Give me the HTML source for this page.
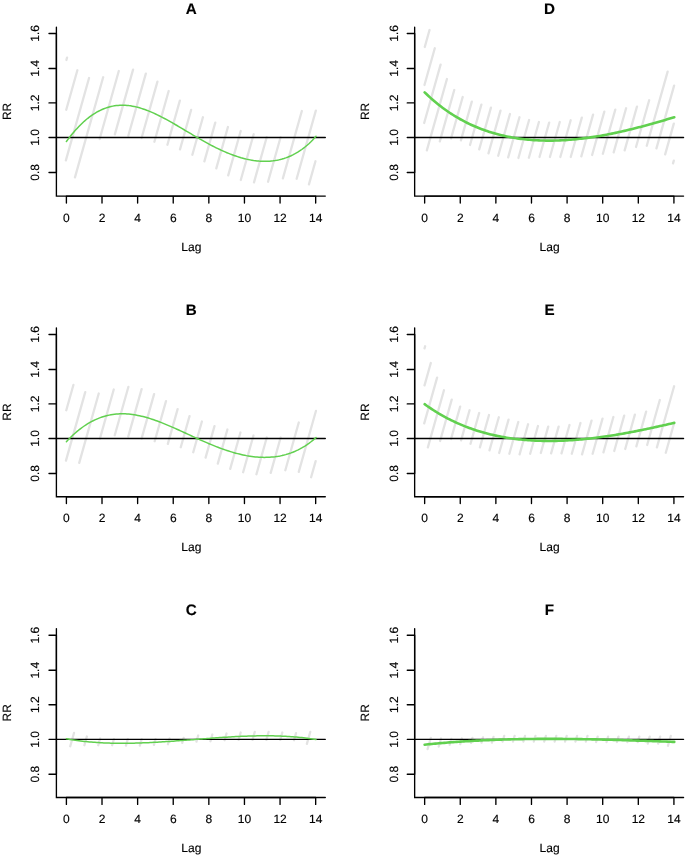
<!DOCTYPE html>
<html><head><meta charset="utf-8"><title>Lag-response curves</title>
<style>
html,body{margin:0;padding:0;background:#fff;}
body{width:685px;height:856px;overflow:hidden;}
svg{display:block;will-change:transform;font-family:"Liberation Sans",sans-serif;}
.ax{stroke:#000;stroke-width:1.35;fill:none;stroke-linecap:round;}
.h{stroke:#E3E3E3;stroke-width:2.3;stroke-linecap:round;fill:none;}
.cv{stroke:#61D04F;fill:none;stroke-linecap:round;stroke-linejoin:round;}
text{fill:#000;font-size:12.0px;stroke:#000;stroke-width:0.15px;text-rendering:geometricPrecision;}
.ti{font-size:15.2px;font-weight:bold;}
</style></head><body>
<svg width="685" height="856" viewBox="0 0 685 856">
<rect x="0" y="0" width="685" height="856" fill="#fff"/>
<g transform="translate(0,0)">
<path class="h" d="M67.04,57.65L66.40,59.95 M77.37,70.25L66.25,109.75 M89.06,78.05L65.87,160.35 M103.16,77.25L74.96,177.35 M118.79,71.05L99.66,138.95 M133.06,69.65L114.84,134.35 M145.82,73.65L128.32,135.75 M157.44,81.65L141.58,137.95 M168.67,91.05L154.39,141.75 M179.85,100.65L167.43,144.75 M191.11,109.95L180.01,149.35 M202.93,117.25L192.37,154.75 M215.29,122.65L204.39,161.35 M227.93,127.05L216.30,168.35 M240.69,131.05L228.21,175.35 M253.67,134.25L240.79,179.95 M266.70,137.25L254.00,182.35 M280.58,137.25L268.05,181.75 M301.84,111.05L282.88,178.35 M315.83,110.65L296.65,178.75 M315.46,161.25L308.95,184.35"/>
<g transform="translate(0,0.0)">
<path class="ax" d="M56.4,137.5H325.3"/>
<path class="cv" stroke-width="1.5" d="M66.40,141.54 L68.18,139.14 L69.97,136.82 L71.75,134.58 L73.53,132.43 L75.31,130.36 L77.10,128.38 L78.88,126.48 L80.66,124.67 L82.45,122.95 L84.23,121.31 L86.01,119.76 L87.80,118.29 L89.58,116.91 L91.36,115.61 L93.15,114.40 L94.93,113.27 L96.71,112.21 L98.49,111.24 L100.28,110.34 L102.06,109.52 L103.84,108.77 L105.63,108.09 L107.41,107.50 L109.19,106.97 L110.97,106.51 L112.76,106.13 L114.54,105.82 L116.32,105.57 L118.11,105.39 L119.89,105.27 L121.67,105.22 L123.46,105.23 L125.24,105.30 L127.02,105.43 L128.81,105.62 L130.59,105.86 L132.37,106.15 L134.15,106.50 L135.94,106.89 L137.72,107.33 L139.50,107.82 L141.29,108.36 L143.07,108.93 L144.85,109.55 L146.63,110.20 L148.42,110.90 L150.20,111.62 L151.98,112.38 L153.77,113.18 L155.55,114.00 L157.33,114.85 L159.12,115.72 L160.90,116.62 L162.68,117.55 L164.47,118.49 L166.25,119.45 L168.03,120.43 L169.81,121.42 L171.60,122.43 L173.38,123.45 L175.16,124.48 L176.95,125.52 L178.73,126.57 L180.51,127.62 L182.29,128.68 L184.08,129.74 L185.86,130.80 L187.64,131.86 L189.43,132.92 L191.21,133.98 L192.99,135.03 L194.78,136.08 L196.56,137.12 L198.34,138.16 L200.12,139.18 L201.91,140.20 L203.69,141.20 L205.47,142.19 L207.26,143.17 L209.04,144.13 L210.82,145.07 L212.61,146.00 L214.39,146.91 L216.17,147.80 L217.95,148.67 L219.74,149.52 L221.52,150.35 L223.30,151.15 L225.09,151.93 L226.87,152.69 L228.65,153.42 L230.44,154.13 L232.22,154.80 L234.00,155.45 L235.78,156.07 L237.57,156.66 L239.35,157.22 L241.13,157.75 L242.92,158.24 L244.70,158.70 L246.48,159.13 L248.27,159.52 L250.05,159.88 L251.83,160.20 L253.61,160.48 L255.40,160.72 L257.18,160.93 L258.96,161.09 L260.75,161.21 L262.53,161.29 L264.31,161.33 L266.10,161.32 L267.88,161.26 L269.66,161.16 L271.44,161.00 L273.23,160.80 L275.01,160.55 L276.79,160.25 L278.58,159.89 L280.36,159.47 L282.14,159.00 L283.93,158.47 L285.71,157.88 L287.49,157.23 L289.27,156.51 L291.06,155.72 L292.84,154.87 L294.62,153.95 L296.41,152.95 L298.19,151.88 L299.97,150.73 L301.76,149.50 L303.54,148.18 L305.32,146.78 L307.11,145.28 L308.89,143.69 L310.67,142.00 L312.45,140.22 L314.24,138.32 L316.02,136.32"/>
</g>
<path class="ax" d="M56.4,27.2V196.1H325.3"/>
<path class="ax" d="M56.4,172.45h-7.4 M56.4,137.50h-7.4 M56.4,102.90h-7.4 M56.4,68.45h-7.4 M56.4,33.45h-7.4 M66.40,196.1v6.9 M102.01,196.1v6.9 M137.62,196.1v6.9 M173.23,196.1v6.9 M208.84,196.1v6.9 M244.45,196.1v6.9 M280.06,196.1v6.9 M315.67,196.1v6.9 M66.40,196.1H315.67 M56.4,172.45V33.45"/>
<text transform="translate(39.3,172.45) rotate(-90)" text-anchor="middle">0.8</text>
<text transform="translate(39.3,137.50) rotate(-90)" text-anchor="middle">1.0</text>
<text transform="translate(39.3,102.90) rotate(-90)" text-anchor="middle">1.2</text>
<text transform="translate(39.3,68.45) rotate(-90)" text-anchor="middle">1.4</text>
<text transform="translate(39.3,33.45) rotate(-90)" text-anchor="middle">1.6</text>
<text x="66.40" y="221.6" text-anchor="middle">0</text>
<text x="102.01" y="221.6" text-anchor="middle">2</text>
<text x="137.62" y="221.6" text-anchor="middle">4</text>
<text x="173.23" y="221.6" text-anchor="middle">6</text>
<text x="208.84" y="221.6" text-anchor="middle">8</text>
<text x="244.45" y="221.6" text-anchor="middle">10</text>
<text x="280.06" y="221.6" text-anchor="middle">12</text>
<text x="315.67" y="221.6" text-anchor="middle">14</text>
<text x="191.3" y="250.6" text-anchor="middle">Lag</text>
<text transform="translate(10.8,111.4) rotate(-90)" text-anchor="middle">RR</text>
<text class="ti" x="191.2" y="14" text-anchor="middle">A</text>
</g>
<g transform="translate(0,300.6)">
<path class="h" d="M73.40,84.35L66.28,109.65 M85.25,91.55L65.96,160.05 M98.74,92.95L79.22,162.25 M113.75,88.95L99.92,138.05 M128.36,86.35L114.75,134.65 M141.62,88.55L128.24,136.05 M154.09,93.55L141.56,138.05 M166.00,100.55L154.70,140.65 M177.62,108.55L167.85,143.25 M189.53,115.55L180.77,146.65 M201.89,120.95L193.24,151.65 M214.48,125.55L205.60,157.05 M227.40,128.95L217.79,163.05 M240.43,131.95L230.21,168.25 M253.47,134.95L243.13,171.65 M266.78,136.95L256.45,173.65 M280.66,136.95L270.72,172.25 M298.77,121.95L285.33,169.65 M315.92,110.35L298.76,171.25 M315.66,160.55L311.12,176.65"/>
<g transform="translate(0,0.4)">
<path class="ax" d="M56.4,137.5H325.3"/>
<path class="cv" stroke-width="1.5" d="M66.40,140.66 L68.18,138.78 L69.97,136.97 L71.75,135.23 L73.53,133.56 L75.31,131.96 L77.10,130.42 L78.88,128.96 L80.66,127.57 L82.45,126.25 L84.23,125.00 L86.01,123.81 L87.80,122.69 L89.58,121.64 L91.36,120.65 L93.15,119.73 L94.93,118.87 L96.71,118.07 L98.49,117.34 L100.28,116.66 L102.06,116.03 L103.84,115.47 L105.63,114.96 L107.41,114.51 L109.19,114.12 L110.97,113.77 L112.76,113.48 L114.54,113.25 L116.32,113.06 L118.11,112.93 L119.89,112.84 L121.67,112.80 L123.46,112.81 L125.24,112.86 L127.02,112.96 L128.81,113.10 L130.59,113.28 L132.37,113.50 L134.15,113.76 L135.94,114.06 L137.72,114.39 L139.50,114.76 L141.29,115.16 L143.07,115.59 L144.85,116.06 L146.63,116.55 L148.42,117.08 L150.20,117.63 L151.98,118.20 L153.77,118.80 L155.55,119.43 L157.33,120.07 L159.12,120.74 L160.90,121.42 L162.68,122.12 L164.47,122.84 L166.25,123.57 L168.03,124.32 L169.81,125.08 L171.60,125.85 L173.38,126.64 L175.16,127.43 L176.95,128.22 L178.73,129.03 L180.51,129.84 L182.29,130.66 L184.08,131.48 L185.86,132.30 L187.64,133.12 L189.43,133.94 L191.21,134.76 L192.99,135.58 L194.78,136.40 L196.56,137.21 L198.34,138.01 L200.12,138.81 L201.91,139.61 L203.69,140.39 L205.47,141.17 L207.26,141.93 L209.04,142.69 L210.82,143.43 L212.61,144.17 L214.39,144.88 L216.17,145.59 L217.95,146.28 L219.74,146.95 L221.52,147.61 L223.30,148.24 L225.09,148.86 L226.87,149.47 L228.65,150.05 L230.44,150.61 L232.22,151.15 L234.00,151.67 L235.78,152.16 L237.57,152.63 L239.35,153.08 L241.13,153.50 L242.92,153.90 L244.70,154.27 L246.48,154.62 L248.27,154.93 L250.05,155.22 L251.83,155.47 L253.61,155.70 L255.40,155.90 L257.18,156.06 L258.96,156.19 L260.75,156.29 L262.53,156.35 L264.31,156.38 L266.10,156.37 L267.88,156.33 L269.66,156.24 L271.44,156.12 L273.23,155.96 L275.01,155.76 L276.79,155.51 L278.58,155.22 L280.36,154.89 L282.14,154.51 L283.93,154.08 L285.71,153.61 L287.49,153.09 L289.27,152.51 L291.06,151.89 L292.84,151.20 L294.62,150.47 L296.41,149.67 L298.19,148.82 L299.97,147.91 L301.76,146.93 L303.54,145.89 L305.32,144.78 L307.11,143.60 L308.89,142.35 L310.67,141.02 L312.45,139.62 L314.24,138.14 L316.02,136.58"/>
</g>
<path class="ax" d="M56.4,27.2V196.1H325.3"/>
<path class="ax" d="M56.4,172.85h-7.4 M56.4,137.90h-7.4 M56.4,103.30h-7.4 M56.4,68.85h-7.4 M56.4,33.85h-7.4 M66.40,196.1v6.9 M102.01,196.1v6.9 M137.62,196.1v6.9 M173.23,196.1v6.9 M208.84,196.1v6.9 M244.45,196.1v6.9 M280.06,196.1v6.9 M315.67,196.1v6.9 M66.40,196.1H315.67 M56.4,172.85V33.85"/>
<text transform="translate(39.3,172.85) rotate(-90)" text-anchor="middle">0.8</text>
<text transform="translate(39.3,137.90) rotate(-90)" text-anchor="middle">1.0</text>
<text transform="translate(39.3,103.30) rotate(-90)" text-anchor="middle">1.2</text>
<text transform="translate(39.3,68.85) rotate(-90)" text-anchor="middle">1.4</text>
<text transform="translate(39.3,33.85) rotate(-90)" text-anchor="middle">1.6</text>
<text x="66.40" y="221.6" text-anchor="middle">0</text>
<text x="102.01" y="221.6" text-anchor="middle">2</text>
<text x="137.62" y="221.6" text-anchor="middle">4</text>
<text x="173.23" y="221.6" text-anchor="middle">6</text>
<text x="208.84" y="221.6" text-anchor="middle">8</text>
<text x="244.45" y="221.6" text-anchor="middle">10</text>
<text x="280.06" y="221.6" text-anchor="middle">12</text>
<text x="315.67" y="221.6" text-anchor="middle">14</text>
<text x="191.3" y="250.6" text-anchor="middle">Lag</text>
<text transform="translate(10.8,111.4) rotate(-90)" text-anchor="middle">RR</text>
<text class="ti" x="191.2" y="14" text-anchor="middle">B</text>
</g>
<g transform="translate(0,601.4)">
<path class="h" d="M73.99,131.55L70.24,144.85 M86.85,135.15L84.40,143.85 M100.17,137.15L98.28,143.85 M113.88,137.75L112.16,143.85 M127.76,137.75L125.93,144.25 M141.64,137.75L139.81,144.25 M155.52,137.75L153.91,143.45 M169.57,137.15L167.96,142.85 M183.62,136.55L182.24,141.45 M198.17,134.15L196.46,140.25 M212.34,133.15L210.45,139.85 M226.50,132.15L224.61,138.85 M240.66,131.15L238.60,138.45 M254.71,130.55L252.48,138.45 M268.59,130.55L266.36,138.45 M282.30,131.15L280.24,138.45 M296.01,131.75L294.01,138.85 M310.23,130.55L306.88,142.45"/>
<g transform="translate(0,0.4)">
<path class="ax" d="M56.4,137.5H325.3"/>
<path class="cv" stroke-width="1.5" d="M66.40,136.94 L68.18,137.28 L69.97,137.59 L71.75,137.89 L73.53,138.18 L75.31,138.45 L77.10,138.71 L78.88,138.95 L80.66,139.18 L82.45,139.39 L84.23,139.59 L86.01,139.78 L87.80,139.96 L89.58,140.13 L91.36,140.28 L93.15,140.43 L94.93,140.56 L96.71,140.68 L98.49,140.80 L100.28,140.90 L102.06,140.99 L103.84,141.08 L105.63,141.16 L107.41,141.22 L109.19,141.28 L110.97,141.34 L112.76,141.38 L114.54,141.41 L116.32,141.44 L118.11,141.46 L119.89,141.48 L121.67,141.48 L123.46,141.48 L125.24,141.47 L127.02,141.46 L128.81,141.44 L130.59,141.41 L132.37,141.38 L134.15,141.34 L135.94,141.29 L137.72,141.24 L139.50,141.19 L141.29,141.13 L143.07,141.06 L144.85,140.99 L146.63,140.91 L148.42,140.83 L150.20,140.75 L151.98,140.66 L153.77,140.57 L155.55,140.47 L157.33,140.37 L159.12,140.27 L160.90,140.16 L162.68,140.05 L164.47,139.94 L166.25,139.82 L168.03,139.70 L169.81,139.58 L171.60,139.45 L173.38,139.33 L175.16,139.20 L176.95,139.07 L178.73,138.94 L180.51,138.80 L182.29,138.67 L184.08,138.53 L185.86,138.39 L187.64,138.25 L189.43,138.11 L191.21,137.97 L192.99,137.83 L194.78,137.69 L196.56,137.55 L198.34,137.41 L200.12,137.27 L201.91,137.13 L203.69,136.99 L205.47,136.85 L207.26,136.71 L209.04,136.58 L210.82,136.44 L212.61,136.31 L214.39,136.18 L216.17,136.05 L217.95,135.92 L219.74,135.80 L221.52,135.68 L223.30,135.56 L225.09,135.44 L226.87,135.33 L228.65,135.21 L230.44,135.11 L232.22,135.00 L234.00,134.90 L235.78,134.81 L237.57,134.72 L239.35,134.63 L241.13,134.55 L242.92,134.47 L244.70,134.40 L246.48,134.33 L248.27,134.27 L250.05,134.21 L251.83,134.16 L253.61,134.12 L255.40,134.08 L257.18,134.04 L258.96,134.02 L260.75,134.00 L262.53,133.99 L264.31,133.98 L266.10,133.98 L267.88,133.99 L269.66,134.01 L271.44,134.03 L273.23,134.06 L275.01,134.10 L276.79,134.15 L278.58,134.21 L280.36,134.28 L282.14,134.35 L283.93,134.43 L285.71,134.53 L287.49,134.63 L289.27,134.74 L291.06,134.86 L292.84,134.99 L294.62,135.13 L296.41,135.29 L298.19,135.45 L299.97,135.62 L301.76,135.80 L303.54,135.99 L305.32,136.20 L307.11,136.41 L308.89,136.64 L310.67,136.88 L312.45,137.13 L314.24,137.39 L316.02,137.66"/>
</g>
<path class="ax" d="M56.4,27.2V196.1H325.3"/>
<path class="ax" d="M56.4,172.85h-7.4 M56.4,137.90h-7.4 M56.4,103.30h-7.4 M56.4,68.85h-7.4 M56.4,33.85h-7.4 M66.40,196.1v6.9 M102.01,196.1v6.9 M137.62,196.1v6.9 M173.23,196.1v6.9 M208.84,196.1v6.9 M244.45,196.1v6.9 M280.06,196.1v6.9 M315.67,196.1v6.9 M66.40,196.1H315.67 M56.4,172.85V33.85"/>
<text transform="translate(39.3,172.85) rotate(-90)" text-anchor="middle">0.8</text>
<text transform="translate(39.3,137.90) rotate(-90)" text-anchor="middle">1.0</text>
<text transform="translate(39.3,103.30) rotate(-90)" text-anchor="middle">1.2</text>
<text transform="translate(39.3,68.85) rotate(-90)" text-anchor="middle">1.4</text>
<text transform="translate(39.3,33.85) rotate(-90)" text-anchor="middle">1.6</text>
<text x="66.40" y="221.6" text-anchor="middle">0</text>
<text x="102.01" y="221.6" text-anchor="middle">2</text>
<text x="137.62" y="221.6" text-anchor="middle">4</text>
<text x="173.23" y="221.6" text-anchor="middle">6</text>
<text x="208.84" y="221.6" text-anchor="middle">8</text>
<text x="244.45" y="221.6" text-anchor="middle">10</text>
<text x="280.06" y="221.6" text-anchor="middle">12</text>
<text x="315.67" y="221.6" text-anchor="middle">14</text>
<text x="191.3" y="250.6" text-anchor="middle">Lag</text>
<text transform="translate(10.8,111.4) rotate(-90)" text-anchor="middle">RR</text>
<text class="ti" x="191.2" y="14" text-anchor="middle">C</text>
</g>
<g transform="translate(358.25,0)">
<path class="h" d="M71.27,30.05L66.51,46.95 M76.55,48.25L66.21,84.95 M82.34,64.65L65.92,122.95 M88.69,79.05L68.61,150.35 M96.01,90.05L81.56,141.35 M104.44,97.05L92.81,138.35 M113.56,101.65L102.66,140.35 M123.12,104.65L111.77,144.95 M132.69,107.65L120.94,149.35 M142.25,110.65L130.23,153.35 M151.71,114.05L139.96,155.75 M161.21,117.25L149.92,157.35 M170.84,120.05L160.16,157.95 M180.68,122.05L170.63,157.75 M190.92,122.65L181.26,156.95 M201.50,122.05L191.67,156.95 M212.42,120.25L202.08,156.95 M223.56,117.65L212.49,156.95 M234.82,114.65L223.07,156.35 M246.07,111.65L233.87,154.95 M257.05,109.65L244.62,153.75 M267.85,108.25L255.43,152.35 M278.71,106.65L266.40,150.35 M290.92,100.25L277.77,146.95 M309.39,71.65L288.52,145.75 M315.86,85.65L298.19,148.35 M315.56,123.65L306.91,154.35 M315.55,160.65L314.79,163.35"/>
<g transform="translate(0,0.0)">
<path class="ax" d="M56.4,137.5H325.3"/>
<path class="cv" stroke-width="2.6" d="M66.40,92.32 L68.18,94.05 L69.97,95.73 L71.75,97.37 L73.53,98.97 L75.31,100.52 L77.10,102.03 L78.88,103.50 L80.66,104.93 L82.45,106.32 L84.23,107.67 L86.01,108.99 L87.80,110.26 L89.58,111.50 L91.36,112.71 L93.15,113.88 L94.93,115.02 L96.71,116.13 L98.49,117.20 L100.28,118.24 L102.06,119.25 L103.84,120.23 L105.63,121.18 L107.41,122.10 L109.19,123.00 L110.97,123.86 L112.76,124.70 L114.54,125.51 L116.32,126.29 L118.11,127.05 L119.89,127.79 L121.67,128.49 L123.46,129.18 L125.24,129.84 L127.02,130.48 L128.81,131.09 L130.59,131.68 L132.37,132.25 L134.15,132.79 L135.94,133.32 L137.72,133.82 L139.50,134.31 L141.29,134.77 L143.07,135.21 L144.85,135.63 L146.63,136.04 L148.42,136.42 L150.20,136.79 L151.98,137.13 L153.77,137.46 L155.55,137.77 L157.33,138.07 L159.12,138.34 L160.90,138.60 L162.68,138.84 L164.47,139.07 L166.25,139.28 L168.03,139.47 L169.81,139.65 L171.60,139.81 L173.38,139.95 L175.16,140.08 L176.95,140.20 L178.73,140.30 L180.51,140.39 L182.29,140.46 L184.08,140.52 L185.86,140.56 L187.64,140.59 L189.43,140.61 L191.21,140.61 L192.99,140.60 L194.78,140.58 L196.56,140.55 L198.34,140.50 L200.12,140.44 L201.91,140.37 L203.69,140.28 L205.47,140.18 L207.26,140.08 L209.04,139.96 L210.82,139.82 L212.61,139.68 L214.39,139.53 L216.17,139.36 L217.95,139.19 L219.74,139.00 L221.52,138.80 L223.30,138.60 L225.09,138.38 L226.87,138.15 L228.65,137.91 L230.44,137.67 L232.22,137.41 L234.00,137.14 L235.78,136.87 L237.57,136.58 L239.35,136.29 L241.13,135.98 L242.92,135.67 L244.70,135.35 L246.48,135.02 L248.27,134.69 L250.05,134.34 L251.83,133.99 L253.61,133.63 L255.40,133.26 L257.18,132.88 L258.96,132.50 L260.75,132.10 L262.53,131.71 L264.31,131.30 L266.10,130.89 L267.88,130.47 L269.66,130.04 L271.44,129.61 L273.23,129.17 L275.01,128.73 L276.79,128.28 L278.58,127.82 L280.36,127.36 L282.14,126.89 L283.93,126.42 L285.71,125.94 L287.49,125.46 L289.27,124.97 L291.06,124.48 L292.84,123.99 L294.62,123.49 L296.41,122.98 L298.19,122.47 L299.97,121.96 L301.76,121.45 L303.54,120.93 L305.32,120.40 L307.11,119.88 L308.89,119.35 L310.67,118.82 L312.45,118.29 L314.24,117.75 L316.02,117.21"/>
</g>
<path class="ax" d="M56.4,27.2V196.1H325.3"/>
<path class="ax" d="M56.4,172.45h-7.4 M56.4,137.50h-7.4 M56.4,102.90h-7.4 M56.4,68.45h-7.4 M56.4,33.45h-7.4 M66.40,196.1v6.9 M102.01,196.1v6.9 M137.62,196.1v6.9 M173.23,196.1v6.9 M208.84,196.1v6.9 M244.45,196.1v6.9 M280.06,196.1v6.9 M315.67,196.1v6.9 M66.40,196.1H315.67 M56.4,172.45V33.45"/>
<text transform="translate(39.3,172.45) rotate(-90)" text-anchor="middle">0.8</text>
<text transform="translate(39.3,137.50) rotate(-90)" text-anchor="middle">1.0</text>
<text transform="translate(39.3,102.90) rotate(-90)" text-anchor="middle">1.2</text>
<text transform="translate(39.3,68.45) rotate(-90)" text-anchor="middle">1.4</text>
<text transform="translate(39.3,33.45) rotate(-90)" text-anchor="middle">1.6</text>
<text x="66.40" y="221.6" text-anchor="middle">0</text>
<text x="102.01" y="221.6" text-anchor="middle">2</text>
<text x="137.62" y="221.6" text-anchor="middle">4</text>
<text x="173.23" y="221.6" text-anchor="middle">6</text>
<text x="208.84" y="221.6" text-anchor="middle">8</text>
<text x="244.45" y="221.6" text-anchor="middle">10</text>
<text x="280.06" y="221.6" text-anchor="middle">12</text>
<text x="315.67" y="221.6" text-anchor="middle">14</text>
<text x="191.3" y="250.6" text-anchor="middle">Lag</text>
<text transform="translate(10.8,111.4) rotate(-90)" text-anchor="middle">RR</text>
<text class="ti" x="191.2" y="14" text-anchor="middle">D</text>
</g>
<g transform="translate(358.25,300.6)">
<path class="h" d="M66.87,45.65L66.28,47.75 M72.55,62.45L66.27,84.75 M78.85,77.05L65.97,122.75 M85.71,89.65L69.62,146.75 M93.47,99.05L81.84,140.35 M101.91,106.05L92.81,138.35 M111.31,109.65L102.83,139.75 M120.93,112.45L112.28,143.15 M130.77,114.45L121.67,146.75 M140.56,116.65L131.24,149.75 M150.30,119.05L140.92,152.35 M160.03,121.45L151.10,153.15 M169.82,123.65L161.34,153.75 M179.72,125.45L171.92,153.15 M189.97,126.05L182.56,152.35 M200.38,126.05L192.85,152.75 M211.24,124.45L203.26,152.75 M222.21,122.45L213.56,153.15 M233.30,120.05L223.80,153.75 M244.27,118.05L234.38,153.15 M255.13,116.45L245.19,151.75 M265.93,115.05L255.99,150.35 M276.63,114.05L266.96,148.35 M287.88,111.05L278.11,145.75 M301.56,99.45L288.91,144.35 M315.86,85.65L298.64,146.75 M315.56,123.65L307.53,152.15"/>
<g transform="translate(0,0.4)">
<path class="ax" d="M56.4,137.5H325.3"/>
<path class="cv" stroke-width="2.6" d="M66.40,103.17 L68.18,104.45 L69.97,105.71 L71.75,106.93 L73.53,108.12 L75.31,109.28 L77.10,110.41 L78.88,111.51 L80.66,112.58 L82.45,113.63 L84.23,114.64 L86.01,115.64 L87.80,116.60 L89.58,117.54 L91.36,118.45 L93.15,119.34 L94.93,120.20 L96.71,121.04 L98.49,121.86 L100.28,122.65 L102.06,123.42 L103.84,124.17 L105.63,124.90 L107.41,125.60 L109.19,126.29 L110.97,126.95 L112.76,127.59 L114.54,128.22 L116.32,128.82 L118.11,129.40 L119.89,129.97 L121.67,130.52 L123.46,131.04 L125.24,131.55 L127.02,132.04 L128.81,132.52 L130.59,132.98 L132.37,133.42 L134.15,133.84 L135.94,134.25 L137.72,134.64 L139.50,135.01 L141.29,135.37 L143.07,135.72 L144.85,136.05 L146.63,136.36 L148.42,136.66 L150.20,136.94 L151.98,137.21 L153.77,137.47 L155.55,137.71 L157.33,137.94 L159.12,138.16 L160.90,138.36 L162.68,138.55 L164.47,138.72 L166.25,138.89 L168.03,139.04 L169.81,139.18 L171.60,139.30 L173.38,139.42 L175.16,139.52 L176.95,139.61 L178.73,139.69 L180.51,139.76 L182.29,139.81 L184.08,139.86 L185.86,139.89 L187.64,139.92 L189.43,139.93 L191.21,139.93 L192.99,139.93 L194.78,139.91 L196.56,139.88 L198.34,139.84 L200.12,139.80 L201.91,139.74 L203.69,139.67 L205.47,139.60 L207.26,139.51 L209.04,139.42 L210.82,139.32 L212.61,139.20 L214.39,139.08 L216.17,138.95 L217.95,138.82 L219.74,138.67 L221.52,138.52 L223.30,138.36 L225.09,138.19 L226.87,138.01 L228.65,137.82 L230.44,137.63 L232.22,137.43 L234.00,137.22 L235.78,137.01 L237.57,136.78 L239.35,136.55 L241.13,136.32 L242.92,136.08 L244.70,135.83 L246.48,135.57 L248.27,135.31 L250.05,135.04 L251.83,134.77 L253.61,134.49 L255.40,134.20 L257.18,133.91 L258.96,133.61 L260.75,133.31 L262.53,133.00 L264.31,132.68 L266.10,132.36 L267.88,132.04 L269.66,131.71 L271.44,131.38 L273.23,131.04 L275.01,130.70 L276.79,130.35 L278.58,130.00 L280.36,129.64 L282.14,129.28 L283.93,128.92 L285.71,128.55 L287.49,128.18 L289.27,127.81 L291.06,127.43 L292.84,127.05 L294.62,126.66 L296.41,126.28 L298.19,125.89 L299.97,125.49 L301.76,125.10 L303.54,124.70 L305.32,124.30 L307.11,123.90 L308.89,123.50 L310.67,123.09 L312.45,122.69 L314.24,122.28 L316.02,121.87"/>
</g>
<path class="ax" d="M56.4,27.2V196.1H325.3"/>
<path class="ax" d="M56.4,172.85h-7.4 M56.4,137.90h-7.4 M56.4,103.30h-7.4 M56.4,68.85h-7.4 M56.4,33.85h-7.4 M66.40,196.1v6.9 M102.01,196.1v6.9 M137.62,196.1v6.9 M173.23,196.1v6.9 M208.84,196.1v6.9 M244.45,196.1v6.9 M280.06,196.1v6.9 M315.67,196.1v6.9 M66.40,196.1H315.67 M56.4,172.85V33.85"/>
<text transform="translate(39.3,172.85) rotate(-90)" text-anchor="middle">0.8</text>
<text transform="translate(39.3,137.90) rotate(-90)" text-anchor="middle">1.0</text>
<text transform="translate(39.3,103.30) rotate(-90)" text-anchor="middle">1.2</text>
<text transform="translate(39.3,68.85) rotate(-90)" text-anchor="middle">1.4</text>
<text transform="translate(39.3,33.85) rotate(-90)" text-anchor="middle">1.6</text>
<text x="66.40" y="221.6" text-anchor="middle">0</text>
<text x="102.01" y="221.6" text-anchor="middle">2</text>
<text x="137.62" y="221.6" text-anchor="middle">4</text>
<text x="173.23" y="221.6" text-anchor="middle">6</text>
<text x="208.84" y="221.6" text-anchor="middle">8</text>
<text x="244.45" y="221.6" text-anchor="middle">10</text>
<text x="280.06" y="221.6" text-anchor="middle">12</text>
<text x="315.67" y="221.6" text-anchor="middle">14</text>
<text x="191.3" y="250.6" text-anchor="middle">Lag</text>
<text transform="translate(10.8,111.4) rotate(-90)" text-anchor="middle">RR</text>
<text class="ti" x="191.2" y="14" text-anchor="middle">E</text>
</g>
<g transform="translate(358.25,601.4)">
<path class="h" d="M72.50,136.55L69.37,147.65 M82.74,137.15L80.49,145.15 M93.04,137.55L91.40,143.35 M103.56,137.15L101.98,142.75 M114.14,136.55L112.76,141.45 M124.72,135.95L123.22,141.25 M135.24,135.55L133.63,141.25 M145.93,134.55L144.35,140.15 M156.34,134.55L154.76,140.15 M166.75,134.55L165.17,140.15 M177.16,134.55L175.58,140.15 M187.57,134.55L185.99,140.15 M197.98,134.55L196.40,140.15 M208.39,134.55L206.81,140.15 M218.80,134.55L217.22,140.15 M229.21,134.55L227.63,140.15 M239.42,135.25L237.90,140.65 M249.83,135.25L248.31,140.65 M260.24,135.25L258.72,140.65 M270.65,135.25L269.13,140.65 M281.06,135.25L279.54,140.65 M291.47,135.25L289.50,142.25 M301.88,135.25L299.91,142.25 M312.49,134.55L309.73,144.35"/>
<g transform="translate(0,0.4)">
<path class="ax" d="M56.4,137.5H325.3"/>
<path class="cv" stroke-width="2.6" d="M66.40,142.88 L68.18,142.70 L69.97,142.52 L71.75,142.34 L73.53,142.17 L75.31,142.00 L77.10,141.84 L78.88,141.67 L80.66,141.51 L82.45,141.36 L84.23,141.20 L86.01,141.05 L87.80,140.91 L89.58,140.76 L91.36,140.62 L93.15,140.49 L94.93,140.35 L96.71,140.22 L98.49,140.09 L100.28,139.97 L102.06,139.84 L103.84,139.72 L105.63,139.61 L107.41,139.50 L109.19,139.38 L110.97,139.28 L112.76,139.17 L114.54,139.07 L116.32,138.97 L118.11,138.87 L119.89,138.78 L121.67,138.69 L123.46,138.60 L125.24,138.52 L127.02,138.43 L128.81,138.35 L130.59,138.28 L132.37,138.20 L134.15,138.13 L135.94,138.06 L137.72,137.99 L139.50,137.93 L141.29,137.87 L143.07,137.81 L144.85,137.75 L146.63,137.70 L148.42,137.65 L150.20,137.60 L151.98,137.55 L153.77,137.51 L155.55,137.46 L157.33,137.42 L159.12,137.39 L160.90,137.35 L162.68,137.32 L164.47,137.29 L166.25,137.26 L168.03,137.23 L169.81,137.21 L171.60,137.18 L173.38,137.16 L175.16,137.15 L176.95,137.13 L178.73,137.12 L180.51,137.10 L182.29,137.09 L184.08,137.09 L185.86,137.08 L187.64,137.07 L189.43,137.07 L191.21,137.07 L192.99,137.07 L194.78,137.08 L196.56,137.08 L198.34,137.09 L200.12,137.10 L201.91,137.11 L203.69,137.12 L205.47,137.13 L207.26,137.15 L209.04,137.16 L210.82,137.18 L212.61,137.20 L214.39,137.22 L216.17,137.25 L217.95,137.27 L219.74,137.29 L221.52,137.32 L223.30,137.35 L225.09,137.38 L226.87,137.41 L228.65,137.44 L230.44,137.48 L232.22,137.51 L234.00,137.55 L235.78,137.59 L237.57,137.62 L239.35,137.66 L241.13,137.71 L242.92,137.75 L244.70,137.79 L246.48,137.83 L248.27,137.88 L250.05,137.93 L251.83,137.97 L253.61,138.02 L255.40,138.07 L257.18,138.12 L258.96,138.17 L260.75,138.22 L262.53,138.27 L264.31,138.33 L266.10,138.38 L267.88,138.43 L269.66,138.49 L271.44,138.55 L273.23,138.60 L275.01,138.66 L276.79,138.72 L278.58,138.78 L280.36,138.84 L282.14,138.89 L283.93,138.95 L285.71,139.02 L287.49,139.08 L289.27,139.14 L291.06,139.20 L292.84,139.26 L294.62,139.32 L296.41,139.39 L298.19,139.45 L299.97,139.51 L301.76,139.58 L303.54,139.64 L305.32,139.70 L307.11,139.77 L308.89,139.83 L310.67,139.90 L312.45,139.96 L314.24,140.03 L316.02,140.09"/>
</g>
<path class="ax" d="M56.4,27.2V196.1H325.3"/>
<path class="ax" d="M56.4,172.85h-7.4 M56.4,137.90h-7.4 M56.4,103.30h-7.4 M56.4,68.85h-7.4 M56.4,33.85h-7.4 M66.40,196.1v6.9 M102.01,196.1v6.9 M137.62,196.1v6.9 M173.23,196.1v6.9 M208.84,196.1v6.9 M244.45,196.1v6.9 M280.06,196.1v6.9 M315.67,196.1v6.9 M66.40,196.1H315.67 M56.4,172.85V33.85"/>
<text transform="translate(39.3,172.85) rotate(-90)" text-anchor="middle">0.8</text>
<text transform="translate(39.3,137.90) rotate(-90)" text-anchor="middle">1.0</text>
<text transform="translate(39.3,103.30) rotate(-90)" text-anchor="middle">1.2</text>
<text transform="translate(39.3,68.85) rotate(-90)" text-anchor="middle">1.4</text>
<text transform="translate(39.3,33.85) rotate(-90)" text-anchor="middle">1.6</text>
<text x="66.40" y="221.6" text-anchor="middle">0</text>
<text x="102.01" y="221.6" text-anchor="middle">2</text>
<text x="137.62" y="221.6" text-anchor="middle">4</text>
<text x="173.23" y="221.6" text-anchor="middle">6</text>
<text x="208.84" y="221.6" text-anchor="middle">8</text>
<text x="244.45" y="221.6" text-anchor="middle">10</text>
<text x="280.06" y="221.6" text-anchor="middle">12</text>
<text x="315.67" y="221.6" text-anchor="middle">14</text>
<text x="191.3" y="250.6" text-anchor="middle">Lag</text>
<text transform="translate(10.8,111.4) rotate(-90)" text-anchor="middle">RR</text>
<text class="ti" x="191.2" y="14" text-anchor="middle">F</text>
</g>
</svg></body></html>
